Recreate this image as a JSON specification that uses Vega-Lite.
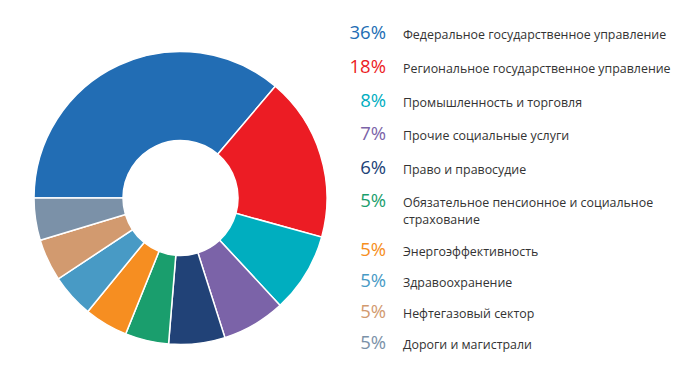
{
  "$schema": "https://vega.github.io/schema/vega-lite/v6.json",
  "padding": {"top": 23, "left": 0, "right": 0, "bottom": 0},
  "spacing": 0,
  "bounds": "flush",
  "background": "white",
  "config": {"view": {"stroke": null}, "concat": {"spacing": 0}},
  "datasets": {
    "shares": [
      {"idx": 1, "sector": "Федеральное государственное управление", "share": 36.2, "pct": "36%"},
      {"idx": 2, "sector": "Региональное государственное управление", "share": 18.1, "pct": "18%"},
      {"idx": 3, "sector": "Промышленность и торговля", "share": 8.8, "pct": "8%"},
      {"idx": 4, "sector": "Прочие социальные услуги", "share": 7.0, "pct": "7%"},
      {"idx": 5, "sector": "Право и правосудие", "share": 6.2, "pct": "6%"},
      {"idx": 6, "sector": "Обязательное пенсионное и социальное\nстрахование", "share": 4.8, "pct": "5%"},
      {"idx": 7, "sector": "Энергоэффективность", "share": 4.8, "pct": "5%"},
      {"idx": 8, "sector": "Здравоохранение", "share": 4.8, "pct": "5%"},
      {"idx": 9, "sector": "Нефтегазовый сектор", "share": 4.65, "pct": "5%"},
      {"idx": 10, "sector": "Дороги и магистрали", "share": 4.65, "pct": "5%"}
    ]
  },
  "hconcat": [
    {
      "width": 361,
      "height": 350,
      "data": {"name": "shares"},
      "mark": {"type": "arc", "innerRadius": 57.5, "outerRadius": 146.5, "stroke": "#ffffff", "strokeWidth": 1.5},
      "encoding": {
        "theta": {"field": "share", "type": "quantitative", "stack": true, "scale": {"range": [-1.5708, 4.7124]}},
        "order": {"field": "idx", "type": "quantitative"},
        "color": {
          "field": "sector", "type": "nominal", "legend": null,
          "scale": {
            "domain": ["Федеральное государственное управление", "Региональное государственное управление", "Промышленность и торговля", "Прочие социальные услуги", "Право и правосудие", "Обязательное пенсионное и социальное\nстрахование", "Энергоэффективность", "Здравоохранение", "Нефтегазовый сектор", "Дороги и магистрали"],
            "range": ["#226DB4", "#EC1C24", "#00AEBF", "#7B63A8", "#214277", "#1A9E6D", "#F68E21", "#489AC5", "#D29A6F", "#7B91A8"]
          }
        }
      }
    },
    {
      "spacing": 0,
      "bounds": "flush",
      "vconcat": [
        {
          "width": 334,
          "height": 200,
          "data": {"name": "shares"},
          "transform": [{"filter": "datum.idx <= 6"}],
          "encoding": {
            "y": {"field": "sector", "type": "nominal", "sort": {"field": "idx", "op": "min", "order": "ascending"}, "scale": {"type": "point", "padding": 0, "range": [16.3, 184.3]}, "axis": null}
          },
          "layer": [
            {
              "mark": {"type": "text", "align": "right", "baseline": "alphabetic", "font": "Open Sans", "fontSize": 18.5},
              "encoding": {
                "x": {"datum": "pct", "type": "nominal", "scale": {"type": "point", "padding": 0, "domain": ["pct", "label"], "range": [25, 42]}, "axis": null},
                "text": {"field": "pct"},
                "color": {
                  "field": "sector", "type": "nominal", "legend": null,
                  "scale": {
                    "domain": ["Федеральное государственное управление", "Региональное государственное управление", "Промышленность и торговля", "Прочие социальные услуги", "Право и правосудие", "Обязательное пенсионное и социальное\nстрахование", "Энергоэффективность", "Здравоохранение", "Нефтегазовый сектор", "Дороги и магистрали"],
                    "range": ["#226DB4", "#EC1C24", "#00AEBF", "#7B63A8", "#214277", "#1A9E6D", "#F68E21", "#489AC5", "#D29A6F", "#7B91A8"]
                  }
                }
              }
            },
            {
              "mark": {"type": "text", "align": "left", "baseline": "alphabetic", "font": "Open Sans", "fontSize": 12.4, "color": "#333333", "lineBreak": "\n", "lineHeight": 17},
              "encoding": {
                "x": {"datum": "label", "type": "nominal"},
                "text": {"field": "sector"}
              }
            }
          ]
        },
        {
          "width": 334,
          "height": 150,
          "data": {"name": "shares"},
          "transform": [{"filter": "datum.idx > 6"}],
          "encoding": {
            "y": {"field": "sector", "type": "nominal", "sort": {"field": "idx", "op": "min", "order": "ascending"}, "scale": {"type": "point", "padding": 0, "range": [32.5, 126.3]}, "axis": null}
          },
          "layer": [
            {
              "mark": {"type": "text", "align": "right", "baseline": "alphabetic", "font": "Open Sans", "fontSize": 18.5},
              "encoding": {
                "x": {"datum": "pct", "type": "nominal", "scale": {"type": "point", "padding": 0, "domain": ["pct", "label"], "range": [25, 42]}, "axis": null},
                "text": {"field": "pct"},
                "color": {
                  "field": "sector", "type": "nominal", "legend": null,
                  "scale": {
                    "domain": ["Федеральное государственное управление", "Региональное государственное управление", "Промышленность и торговля", "Прочие социальные услуги", "Право и правосудие", "Обязательное пенсионное и социальное\nстрахование", "Энергоэффективность", "Здравоохранение", "Нефтегазовый сектор", "Дороги и магистрали"],
                    "range": ["#226DB4", "#EC1C24", "#00AEBF", "#7B63A8", "#214277", "#1A9E6D", "#F68E21", "#489AC5", "#D29A6F", "#7B91A8"]
                  }
                }
              }
            },
            {
              "mark": {"type": "text", "align": "left", "baseline": "alphabetic", "font": "Open Sans", "fontSize": 12.4, "color": "#333333", "lineBreak": "\n", "lineHeight": 17},
              "encoding": {
                "x": {"datum": "label", "type": "nominal"},
                "text": {"field": "sector"}
              }
            }
          ]
        }
      ]
    }
  ]
}
